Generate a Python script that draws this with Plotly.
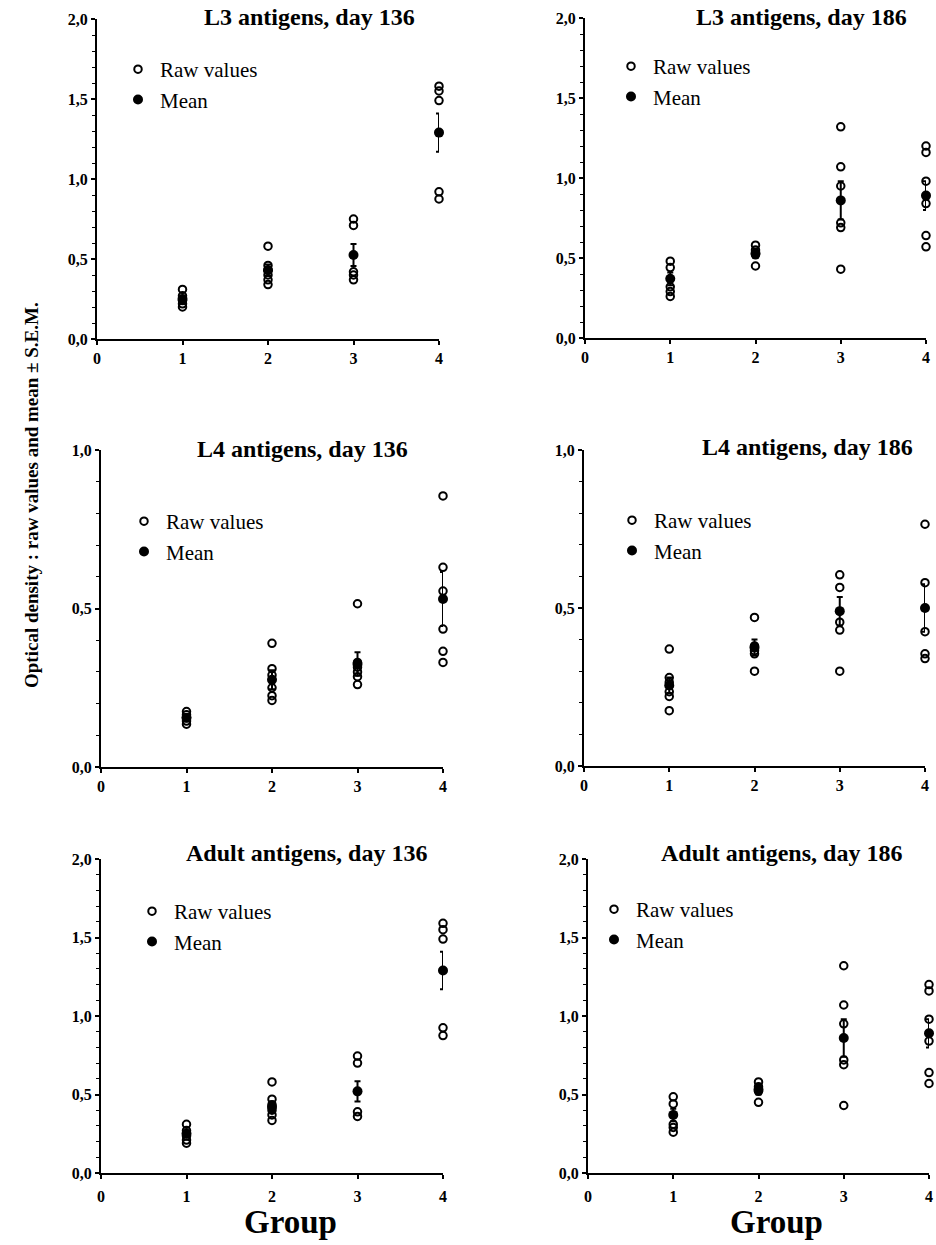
import plotly.graph_objects as go

W, H = 936, 1245

# ---------------- data ----------------
groups = [1, 2, 3, 4]
x_ticks = [0, 1, 2, 3, 4]
x_ticktext = ["0", "1", "2", "3", "4"]
y_ticks_2 = [0, 0.5, 1.0, 1.5, 2.0]
y_ticktext_2 = ["0,0", "0,5", "1,0", "1,5", "2,0"]
y_ticks_1 = [0, 0.5, 1.0]
y_ticktext_1 = ["0,0", "0,5", "1,0"]

titles = ["L3 antigens, day 136", "L3 antigens, day 186",
          "L4 antigens, day 136", "L4 antigens, day 186",
          "Adult antigens, day 136", "Adult antigens, day 186"]

L3_d136_raw = [[0.31, 0.27, 0.24, 0.22, 0.20],
               [0.58, 0.46, 0.43, 0.40, 0.37, 0.34],
               [0.75, 0.71, 0.42, 0.40, 0.37],
               [1.58, 1.55, 1.49, 0.92, 0.875]]
L3_d136_mean = [0.25, 0.43, 0.525, 1.29]
L3_d136_sem = [0.02, 0.035, 0.068, 0.12]

L3_d186_raw = [[0.48, 0.44, 0.32, 0.29, 0.26],
               [0.58, 0.55, 0.52, 0.45],
               [1.32, 1.07, 0.95, 0.72, 0.69, 0.43],
               [1.20, 1.16, 0.98, 0.84, 0.64, 0.57]]
L3_d186_mean = [0.37, 0.53, 0.86, 0.89]
L3_d186_sem = [0.04, 0.03, 0.12, 0.09]

L4_d136_raw = [[0.175, 0.165, 0.155, 0.145, 0.135],
               [0.39, 0.31, 0.29, 0.25, 0.225, 0.21],
               [0.515, 0.33, 0.315, 0.30, 0.285, 0.26],
               [0.855, 0.63, 0.555, 0.435, 0.365, 0.33]]
L4_d136_mean = [0.155, 0.275, 0.325, 0.53]
L4_d136_sem = [0.008, 0.03, 0.037, 0.085]

L4_d186_raw = [[0.37, 0.28, 0.265, 0.235, 0.22, 0.175],
               [0.47, 0.38, 0.365, 0.355, 0.30],
               [0.605, 0.565, 0.455, 0.43, 0.30],
               [0.765, 0.58, 0.425, 0.355, 0.34]]
L4_d186_mean = [0.255, 0.375, 0.49, 0.50]
L4_d186_sem = [0.025, 0.025, 0.045, 0.075]

Adult_d136_raw = [[0.31, 0.27, 0.235, 0.21, 0.19],
                  [0.58, 0.47, 0.435, 0.40, 0.37, 0.335],
                  [0.745, 0.70, 0.39, 0.36],
                  [1.59, 1.55, 1.49, 0.925, 0.875]]
Adult_d136_mean = [0.25, 0.42, 0.52, 1.29]
Adult_d136_sem = [0.02, 0.035, 0.065, 0.12]

Adult_d186_raw = [[0.485, 0.44, 0.31, 0.29, 0.26],
                  [0.58, 0.55, 0.52, 0.45],
                  [1.32, 1.07, 0.95, 0.72, 0.69, 0.43],
                  [1.20, 1.16, 0.98, 0.84, 0.64, 0.57]]
Adult_d186_mean = [0.37, 0.53, 0.86, 0.89]
Adult_d186_sem = [0.04, 0.03, 0.12, 0.09]

series = [
    (L3_d136_raw, L3_d136_mean, L3_d136_sem, 2.0),
    (L3_d186_raw, L3_d186_mean, L3_d186_sem, 2.0),
    (L4_d136_raw, L4_d136_mean, L4_d136_sem, 1.0),
    (L4_d186_raw, L4_d186_mean, L4_d186_sem, 1.0),
    (Adult_d136_raw, Adult_d136_mean, Adult_d136_sem, 2.0),
    (Adult_d186_raw, Adult_d186_mean, Adult_d186_sem, 2.0),
]

# ---------------- layout (pixel geometry) ----------------
# plot box: x_left, x_right, y_top, y_bottom (pixels)
boxes = [(97, 439, 19, 339), (585, 926, 18, 338),
         (101, 443, 450, 767), (584, 925, 450, 766),
         (101, 443, 859, 1173), (588, 929, 859, 1173)]
title_pos = [(309, 17), (801, 17), (302, 449), (807, 447), (306, 853), (781, 853)]
legend_pos = [(137, 64), (630, 61), (143, 516), (631, 515), (151, 906), (613, 904)]
x_label_standoff = [0, 0, 0, 0, 4, 4]

SERIF = "Liberation Serif, Times New Roman, serif"

fig = go.Figure()
layout = dict(
    width=W, height=H, margin=dict(l=0, r=0, t=0, b=0, autoexpand=False),
    plot_bgcolor="white", paper_bgcolor="white", showlegend=True,
    font=dict(family=SERIF, color="black"),
)
annotations = []

for i, ((raw, mean, sem, ymax), box) in enumerate(zip(series, boxes)):
    n = i + 1
    sx = "" if n == 1 else str(n)
    xa, ya = "x" + sx, "y" + sx
    lg = "legend" + sx
    xr, yr = [], []
    for g, vals in zip(groups, raw):
        for v in vals:
            xr.append(g)
            yr.append(v)
    fig.add_trace(go.Scatter(
        x=xr, y=yr, mode="markers", name="Raw values", xaxis=xa, yaxis=ya,
        legend=lg, cliponaxis=False,
        marker=dict(symbol="circle-open", size=7.5, color="black",
                    line=dict(width=2, color="black")),
    ))
    fig.add_trace(go.Scatter(
        x=groups, y=mean, mode="markers", name="Mean", xaxis=xa, yaxis=ya,
        legend=lg, cliponaxis=False,
        marker=dict(symbol="circle", size=10, color="black"),
        error_y=dict(type="data", array=sem, visible=True, color="black",
                     thickness=2, width=3),
    ))
    x0, x1, yt, yb = box
    if ymax == 2.0:
        tv, tt = y_ticks_2, y_ticktext_2
    else:
        tv, tt = y_ticks_1, y_ticktext_1
    layout["xaxis" + sx] = dict(
        domain=[x0 / W, x1 / W], range=[0, 4], anchor=ya, automargin=False,
        showline=True, linewidth=2, linecolor="black", mirror=False,
        ticks="outside", ticklen=4, tickwidth=1.5, tickcolor="black",
        tickvals=x_ticks, ticktext=x_ticktext,
        tickfont=dict(family=SERIF, size=16, weight="bold", color="black"),
        ticklabelstandoff=x_label_standoff[i],
        showgrid=False, zeroline=False, fixedrange=True,
    )
    layout["yaxis" + sx] = dict(
        domain=[1 - yb / H, 1 - yt / H], range=[0, ymax], anchor=xa,
        automargin=False,
        showline=True, linewidth=2, linecolor="black",
        ticks="outside", ticklen=4, tickwidth=1.5, tickcolor="black",
        tickvals=tv, ticktext=tt,
        tickfont=dict(family=SERIF, size=16, weight="bold", color="black"),
        minor=dict(dtick=0.1, ticks="outside", ticklen=3, tickwidth=1,
                   tickcolor="black", showgrid=False),
        showgrid=False, zeroline=False, fixedrange=True,
    )
    lx, ly = legend_pos[i]
    layout[lg] = dict(
        x=(lx - 21) / W, y=1 - (ly - 15) / H, xanchor="left", yanchor="top",
        bgcolor="rgba(0,0,0,0)", borderwidth=0,
        font=dict(family=SERIF, size=21, color="black"),
        tracegroupgap=0, itemwidth=34,
    )
    tx, ty = title_pos[i]
    annotations.append(dict(
        text=titles[i], x=tx / W, y=1 - ty / H, xref="paper", yref="paper",
        xanchor="center", yanchor="middle", showarrow=False,
        font=dict(family=SERIF, size=24, weight="bold", color="black"),
    ))

annotations.append(dict(
    text="Optical density : raw values and mean \u00b1 S.E.M.",
    x=31 / W, y=1 - 495 / H, xref="paper", yref="paper", textangle=-90,
    xanchor="center", yanchor="middle", showarrow=False,
    font=dict(family=SERIF, size=19, weight="bold", color="black"),
))
for gx in (290, 776):
    annotations.append(dict(
        text="Group", x=gx / W, y=1 - 1222 / H, xref="paper", yref="paper",
        xanchor="center", yanchor="middle", showarrow=False,
        font=dict(family=SERIF, size=33, weight="bold", color="black"),
    ))

layout["annotations"] = annotations
fig.update_layout(**layout)
fig.write_html("out.html",
               config={"displayModeBar": False},
               post_script="document.body.style.margin='0';"
                           "document.body.style.overflow='hidden';")
